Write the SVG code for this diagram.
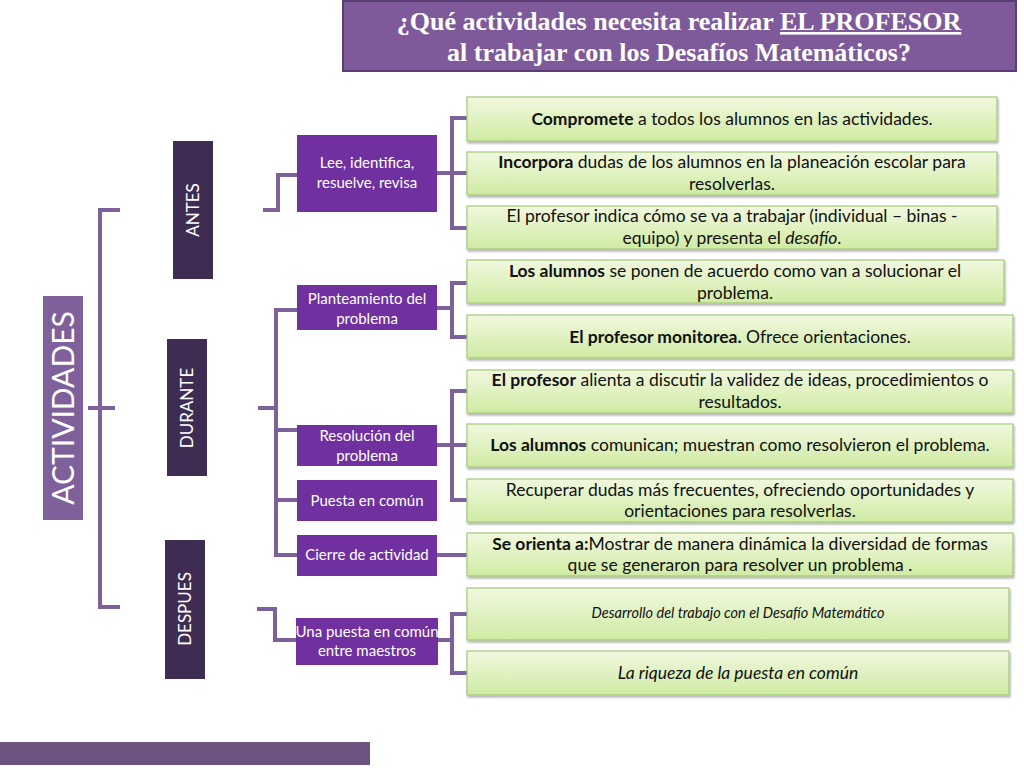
<svg xmlns="http://www.w3.org/2000/svg" width="1024" height="768" viewBox="0 0 1024 768">
<defs>
<linearGradient id="g" x1="0" y1="0" x2="0" y2="1"><stop offset="0" stop-color="#F1F8DF"/><stop offset="1" stop-color="#CFEBA3"/></linearGradient>
<filter id="sh" x="-5%" y="-10%" width="110%" height="130%"><feDropShadow dx="1" dy="2" stdDeviation="1.2" flood-color="#000" flood-opacity="0.3"/></filter>
</defs>
<style>
.gb{fill:url(#g);stroke:#A3C878;stroke-width:1.2;filter:url(#sh)}
.pb{fill:#7030A0}
.db{fill:#3E2C52}
.c{fill:none;stroke:#7D619B;stroke-width:4}
.t{font-family:Lato,"Open Sans",sans-serif;font-size:17.5px;fill:#111;text-anchor:middle}
.w{font-family:Lato,"Open Sans",sans-serif;font-size:15px;fill:#fff;text-anchor:middle}
.v{font-family:Lato,"Open Sans",sans-serif;font-size:17px;fill:#fff;text-anchor:middle}
.b{font-weight:bold}
</style>
<rect x="0" y="0" width="1024" height="768" fill="#fff"/>
<g id="title">
<rect x="343" y="1" width="673" height="70" fill="#7E5A9B" stroke="#5A3D73" stroke-width="2"/>
<text x="679" y="30" font-family="Liberation Serif,serif" font-size="26" font-weight="bold" fill="#fff" text-anchor="middle">¿Qué actividades necesita realizar <tspan text-decoration="underline">EL PROFESOR</tspan></text>
<text x="679" y="61" font-family="Liberation Serif,serif" font-size="26" font-weight="bold" fill="#fff" text-anchor="middle">al trabajar con los Desafíos Matemáticos?</text>
</g>
<rect x="0" y="742" width="370" height="23" fill="#6B5580"/>
<g id="connectors">
<path class="c" d="M88 408H115M120 210H100V607H120"/>
<path class="c" d="M263 210H278V175H297"/>
<path class="c" d="M258 408H276M297 310H276V555H297M276 430H297M276 500H297"/>
<path class="c" d="M257 609H275V640H297"/>
<path class="c" d="M437 173H452M467 118H452V228H467M452 173H467"/>
<path class="c" d="M437 308H452M467 283H452V337H467"/>
<path class="c" d="M437 445H467M467 391H452V500H467"/>
<path class="c" d="M437 555H467"/>
<path class="c" d="M438 640H452M467 614H452V673H467"/>
</g>
<g id="actividades"><rect x="43" y="296" width="40" height="224" fill="#7E619A"/><text transform="translate(74 408) rotate(-90)" font-family="Lato,'Open Sans',sans-serif" font-size="30" fill="#fff" text-anchor="middle">ACTIVIDADES</text></g>
<g id="antes"><rect class="db" x="173" y="141" width="40" height="138"/><text class="v" transform="translate(199 210) rotate(-90)">ANTES</text></g>
<g id="durante"><rect class="db" x="167" y="339" width="40" height="137"/><text class="v" transform="translate(193 408) rotate(-90)">DURANTE</text></g>
<g id="despues"><rect class="db" x="165" y="540" width="40" height="139"/><text class="v" transform="translate(191 609) rotate(-90)">DESPUES</text></g>
<g id="lee"><rect class="pb" x="297" y="135" width="140" height="77"/><text class="w" x="367" y="168">Lee, identifica,</text><text class="w" x="367" y="188">resuelve, revisa</text></g>
<g id="plant"><rect class="pb" x="297" y="285" width="140" height="45"/><text class="w" x="367" y="304">Planteamiento del</text><text class="w" x="367" y="324">problema</text></g>
<g id="resol"><rect class="pb" x="297" y="425" width="140" height="41"/><text class="w" x="367" y="441">Resolución del</text><text class="w" x="367" y="461">problema</text></g>
<g id="puesta"><rect class="pb" x="297" y="480" width="140" height="41"/><text class="w" x="367" y="506">Puesta en común</text></g>
<g id="cierre"><rect class="pb" x="297" y="535" width="140" height="41"/><text class="w" x="367" y="560">Cierre de actividad</text></g>
<g id="una"><rect class="pb" x="296" y="618" width="142" height="47"/><text class="w" x="367" y="637">Una puesta en común</text><text class="w" x="367" y="656">entre maestros</text></g>
<g id="n1"><rect class="gb" x="467" y="97" width="530" height="44"/><text class="t" x="732" y="125"><tspan class="b">Compromete</tspan> a todos los alumnos en las actividades.</text></g>
<g id="n2"><rect class="gb" x="467" y="152" width="530" height="43"/><text class="t" x="732" y="168"><tspan class="b">Incorpora</tspan> dudas de los alumnos en la planeación escolar para</text><text class="t" x="732" y="190">resolverlas.</text></g>
<g id="n3"><rect class="gb" x="467" y="206" width="530" height="43"/><text class="t" x="732" y="222">El profesor indica cómo se va a trabajar  (individual – binas -</text><text class="t" x="732" y="244">equipo) y presenta el <tspan font-style="italic">desafío</tspan>.</text></g>
<g id="n4"><rect class="gb" x="467" y="260" width="537" height="43"/><text class="t" x="735" y="277"><tspan class="b">Los alumnos</tspan> se ponen de acuerdo como van a solucionar el</text><text class="t" x="735" y="299">problema.</text></g>
<g id="n5"><rect class="gb" x="467" y="315" width="546" height="43"/><text class="t" x="740" y="343"><tspan class="b">El profesor monitorea.</tspan> Ofrece orientaciones.</text></g>
<g id="n6"><rect class="gb" x="467" y="370" width="546" height="43"/><text class="t" x="740" y="386"><tspan class="b">El profesor</tspan> alienta a discutir la validez de ideas, procedimientos o</text><text class="t" x="740" y="408">resultados.</text></g>
<g id="n7"><rect class="gb" x="467" y="424" width="546" height="43"/><text class="t" x="740" y="451"><tspan class="b">Los alumnos</tspan> comunican; muestran como resolvieron el problema.</text></g>
<g id="n8"><rect class="gb" x="467" y="479" width="546" height="43"/><text class="t" x="740" y="496">Recuperar dudas más frecuentes, ofreciendo oportunidades y</text><text class="t" x="740" y="517">orientaciones para resolverlas.</text></g>
<g id="n9"><rect class="gb" x="467" y="533" width="546" height="43"/><text class="t" x="740" y="550"><tspan class="b">Se orienta a:</tspan>Mostrar de manera dinámica la diversidad de formas</text><text class="t" x="740" y="571">que se generaron para resolver un problema .</text></g>
<g id="n10"><rect class="gb" x="467" y="588" width="542" height="52"/><text class="t" x="738" y="618" style="font-size:14.5px;font-style:italic">Desarrollo del trabajo con el Desafío Matemático</text></g>
<g id="n11"><rect class="gb" x="467" y="651" width="542" height="44"/><text class="t" x="738" y="679" style="font-size:17.5px;font-style:italic">La riqueza de la puesta en común</text></g>
</svg>
